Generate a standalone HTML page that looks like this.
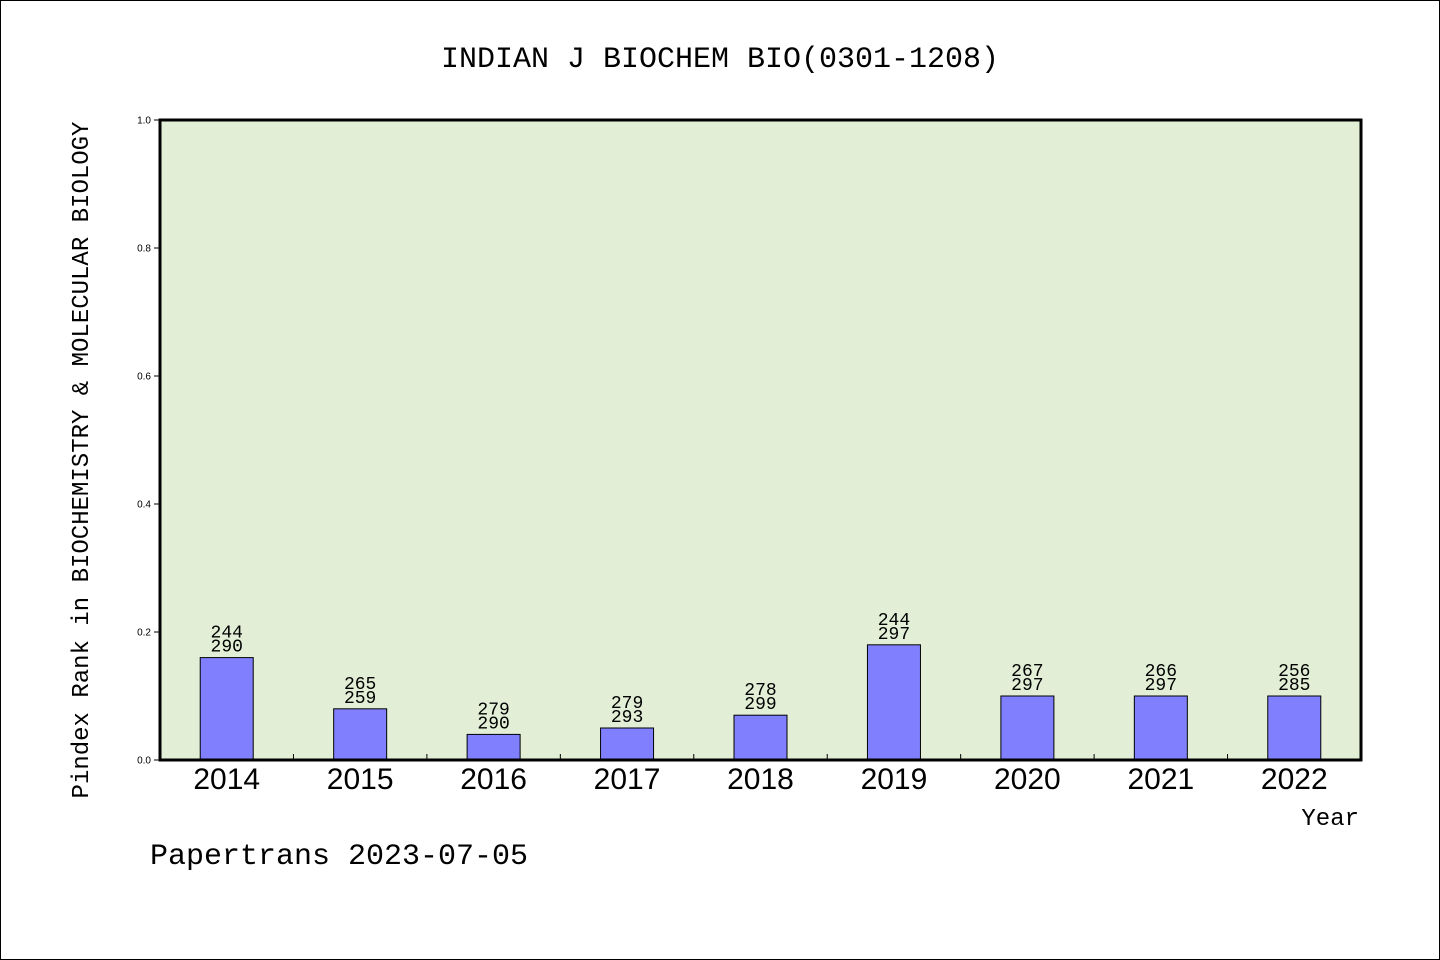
<!DOCTYPE html>
<html><head><meta charset="utf-8"><style>
html,body{margin:0;padding:0;background:#fff;}
svg{display:block;}
text{font-family:"Liberation Mono","Noto Sans CJK SC",monospace;fill:#000;}
</style></head><body>
<svg id="chart" width="1440" height="960" xmlns="http://www.w3.org/2000/svg">
<rect x="0.5" y="0.5" width="1439" height="959" fill="#fff" stroke="#000"/>
<text x="720" y="67" font-size="30" text-anchor="middle">INDIAN J BIOCHEM BIO(0301-1208)</text>
<rect x="160" y="120" width="1201" height="640" fill="#e2efd6"/>
<g id="bars"></g>
<g id="axes"></g>
<rect x="160" y="120" width="1201" height="640" fill="none" stroke="#000" stroke-width="3"/>
<text transform="translate(88,460) rotate(-90)" font-size="24" text-anchor="middle">Pindex Rank in BIOCHEMISTRY &amp; MOLECULAR BIOLOGY</text>
<text x="1359" y="825" font-size="24" text-anchor="end">Year</text>
<text x="150" y="864" font-size="30">Papertrans 2023-07-05</text>
</svg>
<script>
const years = ["2014","2015","2016","2017","2018","2019","2020","2021","2022"];
const values = [0.16,0.08,0.04,0.05,0.07,0.18,0.10,0.10,0.10];
const rankTop = ["244","265","279","279","278","244","267","266","256"];
const rankBottom = ["290","259","290","293","299","297","297","297","285"];
const yTicks = ["0.0","0.2","0.4","0.6","0.8","1.0"];

const NS="http://www.w3.org/2000/svg";
const X0=160,X1=1361,Y0=760,Y1=120;
const band=(X1-X0)/years.length;
const xC=i=>X0+band*(i+0.5);
const yS=v=>Y0-(v-0)/(1-0)*(Y0-Y1);
function mk(tag,attrs,parent){const e=document.createElementNS(NS,tag);for(const k in attrs)e.setAttribute(k,attrs[k]);parent.appendChild(e);return e;}
const bars=document.getElementById('bars'),axes=document.getElementById('axes');
years.forEach((yr,i)=>{
  const bw=53,top=yS(values[i]);
  const r=mk('rect',{x:xC(i)-bw/2,y:top,width:bw,height:Y0-top,fill:'#8080ff',stroke:'#000','stroke-width':1},bars);
  
  
  const t1=mk('text',{x:xC(i),y:top-20,'font-size':18,'text-anchor':'middle'},bars);t1.textContent=rankTop[i];
  
  
  const t2=mk('text',{x:xC(i),y:top-6,'font-size':18,'text-anchor':'middle'},bars);t2.textContent=rankBottom[i];
  
  
  const xl=mk('text',{x:xC(i),y:789,'font-size':30,'text-anchor':'middle','style':'font-family:"Liberation Sans",sans-serif'},axes);xl.textContent=yr;
  
  
  if(i>0){const tk=mk('line',{x1:X0+band*i,x2:X0+band*i,y1:Y0,y2:Y0-6,stroke:'#000'},axes);
  
  }
});
yTicks.forEach(lbl=>{
  const y=yS(parseFloat(lbl));
  const l=mk('line',{x1:X0-6,x2:X0,y1:y,y2:y,stroke:'#000'},axes);
  
  
  const t=mk('text',{x:X0-9,y:y+3.5,'font-size':10,'text-anchor':'end','style':'font-family:"Liberation Sans",sans-serif'},axes);t.textContent=lbl;
  
  
});
</script>
</body></html>
